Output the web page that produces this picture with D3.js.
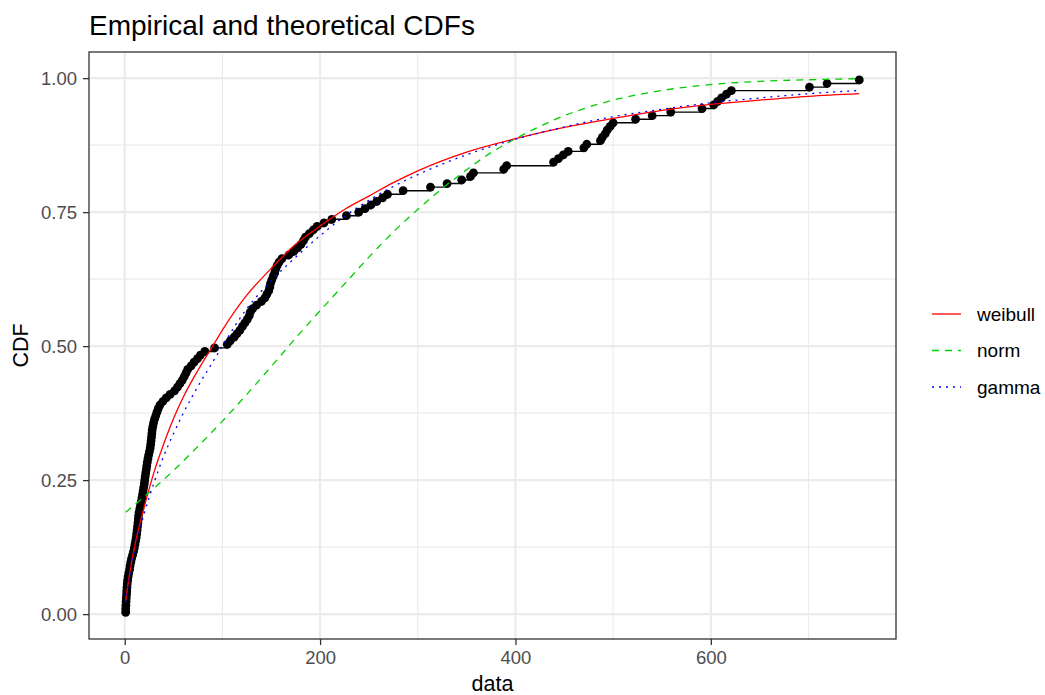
<!DOCTYPE html>
<html>
<head>
<meta charset="utf-8">
<script src="https://cdn.jsdelivr.net/npm/d3@7"></script>
<style>
  body { margin: 0; background: #fff; }
  text { font-family: "Liberation Sans", Arial, sans-serif; }
</style>
</head>
<body>
<div id="chart"></div>
<script>
const sampleData = [
  1.0, 1.0, 1.2, 1.4, 1.6,
  1.9, 2.1, 2.3, 2.6, 3.0, 3.5, 4.2, 5.0, 5.5, 6.2, 7.0, 8.0, 9.0, 9.8, 10.5,
  11.2, 11.8, 12.3, 12.7, 13.1, 13.5, 13.9, 14.2, 14.7, 15.5,
  16.3, 17.0, 17.7, 18.3, 18.9, 19.5, 20.1, 20.5, 21.0, 21.5,
  22.1, 22.6, 23.1, 23.8, 24.5, 25.3, 26.1, 26.6, 27.0, 27.4,
  27.8, 28.1, 28.8, 29.5, 30.5, 31.8, 33.0, 34.3, 36.0, 39.0,
  42.5, 46.5, 51.0, 54.0, 56.5, 59.0, 61.0, 62.8, 64.5, 68.0,
  71.0, 74.5, 77.5, 82.0, 92.0, 105, 108, 112, 115, 118,
  120.5, 123, 125.5, 127.5, 128.5, 131, 135, 140, 143.5, 145.5,
  147.5, 148.5, 149.2, 150.5, 152, 153.5, 154.5, 156, 158, 161,
  168, 173, 177, 180.5, 183, 185, 189, 193, 197, 204,
  212, 227, 239.6, 246, 252, 258, 264, 269, 285, 313,
  330, 345, 354, 357, 388, 391, 439, 444, 449, 454,
  470, 473, 487, 489, 492, 494, 497, 500, 523, 540,
  559, 591, 603, 607, 611, 616, 621, 701, 719, 752
];

// theoretical CDFs
const weibullX = [1, 5, 10, 15, 20, 30, 40, 50, 60, 75, 90, 100, 125, 150, 175, 200, 225, 250, 275, 300, 350, 400, 450, 500, 550, 600, 650, 700, 752];
const weibullY = [0.025, 0.075, 0.125, 0.165, 0.2, 0.265, 0.318, 0.365, 0.405, 0.455, 0.5, 0.53, 0.595, 0.645, 0.69, 0.724, 0.755, 0.78, 0.805, 0.827, 0.862, 0.887, 0.908, 0.925, 0.94, 0.951, 0.959, 0.966, 0.971];

const normX = [1, 25, 50, 75, 100, 125, 150, 175, 200, 225, 250, 275, 300, 325, 350, 375, 400, 425, 450, 475, 500, 550, 600, 650, 700, 752];
const normY = [0.19, 0.227, 0.268, 0.313, 0.36, 0.41, 0.462, 0.515, 0.566, 0.616, 0.666, 0.713, 0.755, 0.794, 0.829, 0.861, 0.887, 0.91, 0.93, 0.946, 0.959, 0.977, 0.988, 0.994, 0.997, 0.999];

const gammaX = [1, 5, 10, 15, 20, 30, 40, 50, 60, 75, 90, 100, 125, 150, 175, 200, 225, 250, 275, 300, 350, 400, 450, 500, 550, 600, 650, 700, 752];
const gammaY = [0.022, 0.07, 0.118, 0.155, 0.188, 0.245, 0.295, 0.337, 0.375, 0.425, 0.47, 0.5, 0.57, 0.622, 0.666, 0.706, 0.742, 0.772, 0.798, 0.82, 0.857, 0.886, 0.909, 0.928, 0.942, 0.954, 0.963, 0.971, 0.977];

const fitNames = ["weibull", "norm", "gamma"];
const fitColors = ["#FF0000", "#00CD00", "#0000FF"];
const fitDash = [null, "7,6", "2,5"];

const xTicks = [0, 200, 400, 600];
const xMinor = [100, 300, 500, 700];
const yTicks = [0, 0.25, 0.5, 0.75, 1];
const yMinor = [0.125, 0.375, 0.625, 0.875];

const width = 1045, height = 695;
const panel = {left: 89, top: 52, right: 896, bottom: 639};

const svg = d3.select("#chart").append("svg")
    .attr("width", width)
    .attr("height", height);

// empirical cdf, plotting positions (i - 0.5)/n
let sorted = sampleData.slice().sort(d3.ascending);
let n = sorted.length;
let ecdf = sorted.map(function(v, i) { return {x: v, y: (i + 0.5) / n}; });

let fits = [
  {name: fitNames[0], pts: weibullX.map(function(v, i) { return {x: v, y: weibullY[i]}; })},
  {name: fitNames[1], pts: normX.map(function(v, i) { return {x: v, y: normY[i]}; })},
  {name: fitNames[2], pts: gammaX.map(function(v, i) { return {x: v, y: gammaY[i]}; })}
];

// ggplot style 5% expansion
let allX = sorted.concat(weibullX, normX, gammaX);
let allY = ecdf.map(function(d) { return d.y; }).concat(weibullY, normY, gammaY);
let xr = d3.extent(allX), yr = d3.extent(allY);
let xpad = (xr[1] - xr[0]) * 0.05, ypad = (yr[1] - yr[0]) * 0.05;

let x = d3.scaleLinear().domain([xr[0] - xpad, xr[1] + xpad]).range([panel.left, panel.right]);
let y = d3.scaleLinear().domain([yr[0] - ypad, yr[1] + ypad]).range([panel.bottom, panel.top]);

// grid
let grid = svg.append("g");
grid.selectAll(".xminor").data(xMinor).enter().append("line")
    .attr("x1", d => x(d)).attr("x2", d => x(d))
    .attr("y1", panel.top).attr("y2", panel.bottom)
    .attr("stroke", "#EBEBEB").attr("stroke-width", 1.1);
grid.selectAll(".yminor").data(yMinor).enter().append("line")
    .attr("y1", d => y(d)).attr("y2", d => y(d))
    .attr("x1", panel.left).attr("x2", panel.right)
    .attr("stroke", "#EBEBEB").attr("stroke-width", 1.1);
grid.selectAll(".xmajor").data(xTicks).enter().append("line")
    .attr("x1", d => x(d)).attr("x2", d => x(d))
    .attr("y1", panel.top).attr("y2", panel.bottom)
    .attr("stroke", "#EBEBEB").attr("stroke-width", 2.2);
grid.selectAll(".ymajor").data(yTicks).enter().append("line")
    .attr("y1", d => y(d)).attr("y2", d => y(d))
    .attr("x1", panel.left).attr("x2", panel.right)
    .attr("stroke", "#EBEBEB").attr("stroke-width", 2.2);

// empirical step + points
let step = d3.line().x(d => x(d.x)).y(d => y(d.y)).curve(d3.curveStepAfter);
svg.append("path")
    .datum(ecdf)
    .attr("d", step)
    .attr("fill", "none")
    .attr("stroke", "#000")
    .attr("stroke-width", 1.4);

svg.selectAll("circle.obs")
    .data(ecdf)
  .enter().append("circle")
    .attr("class", "obs")
    .attr("cx", d => x(d.x))
    .attr("cy", d => y(d.y))
    .attr("r", 4.4)
    .attr("fill", "#000");

// theoretical curves
let curve = d3.line().x(d => x(d.x)).y(d => y(d.y)).curve(d3.curveMonotoneX);
svg.selectAll("path.fit")
    .data(fits)
  .enter().append("path")
    .attr("class", "fit")
    .attr("d", d => curve(d.pts))
    .attr("fill", "none")
    .attr("stroke", (d, i) => fitColors[i])
    .attr("stroke-width", 1.3)
    .attr("stroke-dasharray", (d, i) => fitDash[i]);

// panel border
svg.append("rect")
    .attr("x", panel.left).attr("y", panel.top)
    .attr("width", panel.right - panel.left)
    .attr("height", panel.bottom - panel.top)
    .attr("fill", "none")
    .attr("stroke", "#333333")
    .attr("stroke-width", 1.3);

// axes
let xAxis = d3.axisBottom(x).tickValues(xTicks).tickSize(6).tickPadding(6).tickFormat(d3.format("d"));
let gx = svg.append("g").attr("transform", "translate(0," + panel.bottom + ")").call(xAxis);
let yAxis = d3.axisLeft(y).tickValues(yTicks).tickSize(6).tickPadding(6).tickFormat(d3.format(".2f"));
let gy = svg.append("g").attr("transform", "translate(" + panel.left + ",0)").call(yAxis);

[gx, gy].forEach(function(g) {
  g.select(".domain").remove();
  g.selectAll(".tick line").attr("stroke", "#333333").attr("stroke-width", 1.3);
  g.selectAll(".tick text")
    .attr("fill", "#4D4D4D")
    .style("font-size", "18.5px")
    .style("font-family", '"Liberation Sans", Arial, sans-serif');
});

// titles
svg.append("text")
    .attr("x", 89).attr("y", 35)
    .style("font-size", "28px")
    .attr("fill", "#000")
    .text("Empirical and theoretical CDFs");

svg.append("text")
    .attr("x", (panel.left + panel.right) / 2).attr("y", 691)
    .attr("text-anchor", "middle")
    .style("font-size", "21.5px")
    .text("data");

svg.append("text")
    .attr("transform", "translate(28," + ((panel.top + panel.bottom) / 2) + ") rotate(-90)")
    .attr("text-anchor", "middle")
    .style("font-size", "21.5px")
    .text("CDF");

// legend
let legend = svg.append("g");
let keyY = [314, 350.5, 387];
fitNames.forEach(function(name, i) {
  legend.append("line")
    .attr("x1", 932).attr("x2", 961)
    .attr("y1", keyY[i]).attr("y2", keyY[i])
    .attr("stroke", fitColors[i])
    .attr("stroke-width", 1.3)
    .attr("stroke-dasharray", fitDash[i]);
  legend.append("text")
    .attr("x", 977).attr("y", keyY[i])
    .attr("dy", "0.35em")
    .style("font-size", "19px")
    .attr("fill", "#000")
    .text(name);
});
</script>
</body>
</html>
